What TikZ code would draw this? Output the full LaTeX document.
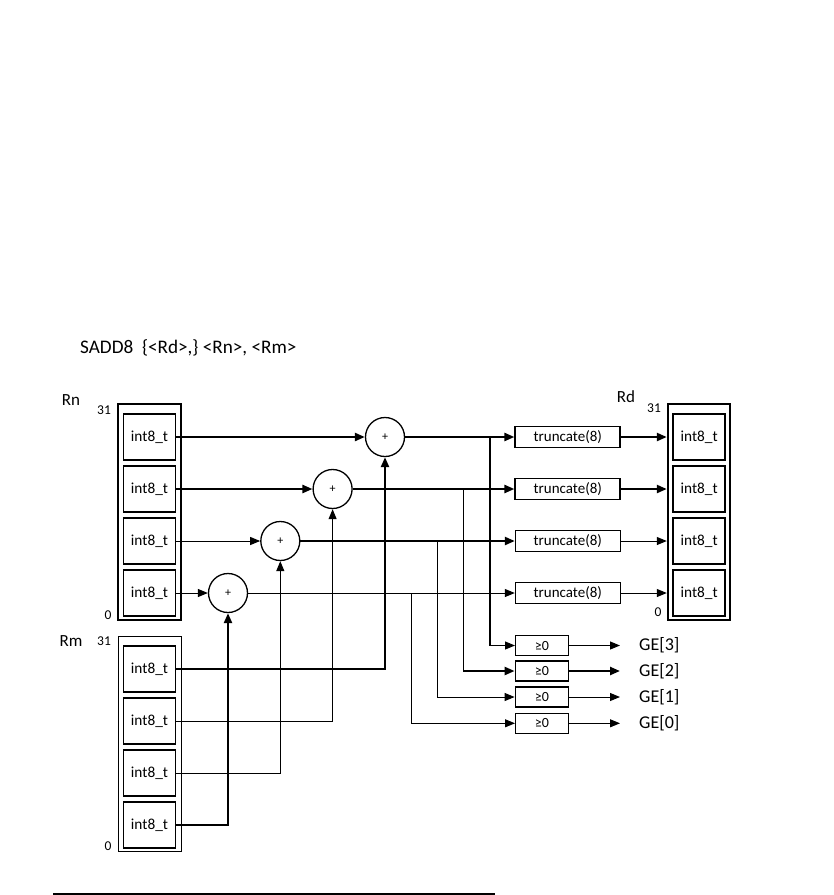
\documentclass[tikz,border=0pt]{standalone}
\usepackage{fontspec}
\setmainfont{Carlito}
\usetikzlibrary{arrows.meta}
\begin{document}
\begin{tikzpicture}[x=1pt,y=-1pt,
  thk/.style={line width=2.3pt},
  thn/.style={line width=1pt},
  arr/.style={-{Triangle[length=10pt,width=8pt]}},
  outerbox/.style={draw, inner sep=0pt, minimum width=63pt, minimum height=216pt},
  cell/.style={draw, line width=1.8pt, inner sep=0pt, minimum width=52pt, minimum height=46pt, font=\fontsize{15.3}{17}\selectfont},
  adder/.style={draw, circle, line width=1.3pt, inner sep=0pt, minimum size=39pt, font=\fontsize{12}{13}\selectfont},
  trunc/.style={draw, inner sep=0pt, minimum width=105pt, minimum height=21pt, font=\fontsize{15}{17}\selectfont},
  gebox/.style={draw, inner sep=0pt, minimum width=53pt, minimum height=20pt, font=\fontsize{14}{16}\selectfont},
  lbl/.style={inner sep=0pt, font=\fontsize{17}{19}\selectfont},
  num/.style={inner sep=0pt, font=\fontsize{13.5}{15}\selectfont},
  gelbl/.style={inner sep=0pt, anchor=west, font=\fontsize{18}{20}\selectfont}]
\useasboundingbox (0,0) rectangle (834,895);

% title
\node[inner sep=0pt, anchor=west, font=\fontsize{19.2}{21}\selectfont] (title) at (80,348) {SADD8\ \ \{<Rd>,\} <Rn>, <Rm>};

% Rn register
\node[lbl] (rnl) at (71,400) {Rn};
\node[num] (rn31) at (104,410) {31};
\node[num] (rn0) at (108,615) {0};
\node[outerbox, line width=2pt] (rn) at (149.5,511.5) {};
\node[cell] (rn1) at (149.5,437) {int8\_t};
\node[cell] (rn2) at (149.5,489) {int8\_t};
\node[cell] (rn3) at (149.5,541) {int8\_t};
\node[cell] (rn4) at (149.5,593) {int8\_t};

% Rm register
\node[lbl] (rml) at (71,641) {Rm};
\node[num] (rm31) at (104,641) {31};
\node[num] (rm0) at (108,846) {0};
\node[outerbox, line width=1pt, minimum height=215pt] (rm) at (149.6,743.5) {};
\node[cell] (rm1) at (149.5,669) {int8\_t};
\node[cell] (rm2) at (149.5,721) {int8\_t};
\node[cell] (rm3) at (149.5,773) {int8\_t};
\node[cell] (rm4) at (149.5,825) {int8\_t};

% adders
\node[adder] (add1) at (385,437) {+};
\node[adder] (add2) at (332.6,489) {+};
\node[adder] (add3) at (280.3,541) {+};
\node[adder] (add4) at (228,593) {+};

% truncate boxes
\node[trunc, line width=1.8pt] (tr1) at (567.8,437) {truncate(8)};
\node[trunc, line width=1.8pt] (tr2) at (567.8,489) {truncate(8)};
\node[trunc, line width=1pt] (tr3) at (567.8,541) {truncate(8)};
\node[trunc, line width=1pt] (tr4) at (567.8,593) {truncate(8)};

% Rd register
\node[lbl] (rdl) at (626,397) {Rd};
\node[num] (rd31) at (654,408) {31};
\node[num] (rd0) at (658,612) {0};
\node[outerbox, line width=2pt, minimum width=62pt] (rd) at (698.8,512) {};
\node[cell] (rd1) at (699.2,437) {int8\_t};
\node[cell] (rd2) at (699.2,489) {int8\_t};
\node[cell] (rd3) at (699.2,541) {int8\_t};
\node[cell] (rd4) at (699.2,593) {int8\_t};

% GE boxes
\node[gebox, line width=1pt] (ge3) at (542,645.5) {≥0};
\node[gebox, line width=1.8pt] (ge2) at (542,671) {≥0};
\node[gebox, line width=1.8pt] (ge1) at (542,697) {≥0};
\node[gebox, line width=1pt] (ge0) at (542,723.3) {≥0};
\coordinate (g3) at (620,645.5);
\coordinate (g2) at (620,671);
\coordinate (g1) at (620,697);
\coordinate (g0) at (620,723.3);
\node[gelbl] (gel3) at (639,645.5) {GE[3]};
\node[gelbl] (gel2) at (639,671) {GE[2]};
\node[gelbl] (gel1) at (639,697) {GE[1]};
\node[gelbl] (gel0) at (639,723.3) {GE[0]};

% Rn to adders
\draw[thk, arr] (rn1.east) -- (add1.west);
\draw[thk, arr] (rn2.east) -- (add2.west);
\draw[thn, arr] (rn3.east) -- (add3.west);
\draw[thn, arr] (rn4.east) -- (add4.west);

% Rm to adders
\draw[thk, arr] (rm1.east) -| (add1.south);
\draw[thn, arr] (rm2.east) -| (add2.south);
\draw[thn, arr] (rm3.east) -| (add3.south);
\draw[thk, arr] (rm4.east) -| (add4.south);

% adders to truncate
\draw[thk, arr] (add1.east) -- (tr1.west);
\draw[thk, arr] (add2.east) -- (tr2.west);
\draw[thk, arr] (add3.east) -- (tr3.west);
\draw[thn, arr] (add4.east) -- (tr4.west);

% truncate to Rd
\draw[thk, arr] (tr1.east) -- (rd.west |- tr1.east);
\draw[thk, arr] (tr2.east) -- (rd.west |- tr2.east);
\draw[thn, arr] (tr3.east) -- (rd.west |- tr3.east);
\draw[thn, arr] (tr4.east) -- (rd.west |- tr4.east);

% branches to GE boxes
\coordinate (b1) at (490,437);
\coordinate (b2) at (463.3,489);
\coordinate (b3) at (437.3,541);
\coordinate (b4) at (411.7,593);
\draw[thk] (b1) -- (b1 |- ge3.west);
\draw[thn, arr] (b1 |- ge3.west) -- (ge3.west);
\draw[thn] (b2) -- (b2 |- ge2.west);
\draw[thk, arr] (b2 |- ge2.west) -- (ge2.west);
\draw[thn, arr] (b3) |- (ge1.west);
\draw[thn, arr] (b4) |- (ge0.west);

% GE boxes to labels
\draw[thn, arr] (ge3.east) -- (g3);
\draw[thk, arr] (ge2.east) -- (g2);
\draw[thn, arr] (ge1.east) -- (g1);
\draw[thn, arr] (ge0.east) -- (g0);

% bottom rule
\coordinate (r0) at (53,894);
\coordinate (r1) at (495,894);
\draw[line width=1.5pt] (r0) -- (r1);
\end{tikzpicture}
\end{document}
